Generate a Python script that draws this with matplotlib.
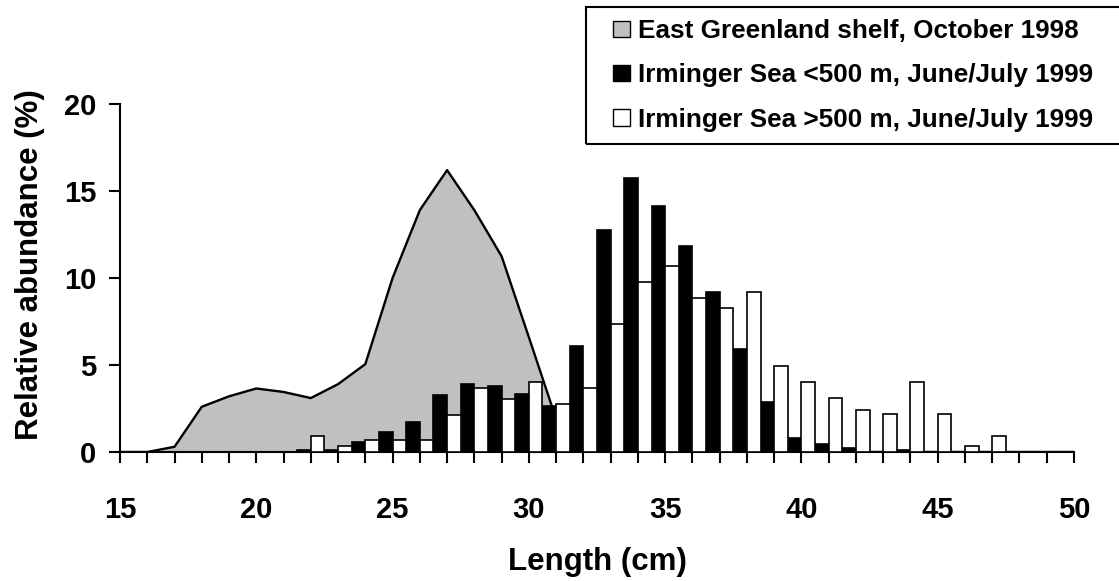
import matplotlib
matplotlib.use("Agg")
import matplotlib.pyplot as plt
from matplotlib.patches import Patch, Rectangle
import numpy as np

plt.rcParams['font.family'] = ['Liberation Sans', 'DejaVu Sans']
plt.rcParams['font.weight'] = 'bold'

# length classes (cm)
lengths = np.arange(15, 51)

# East Greenland shelf, October 1998 (area)
greenland = [0, 0, 0.3, 2.6, 3.2, 3.65, 3.45, 3.1, 3.9, 5.05,
             10.0, 13.9, 16.2, 13.9, 11.25, 6.6, 1.9, 0, 0, 0,
             0, 0, 0, 0, 0, 0, 0, 0, 0, 0,
             0, 0, 0, 0, 0, 0]
# Irminger Sea <500 m (black bars)
shallow = [0, 0, 0, 0, 0, 0, 0, 0.1, 0.1, 0.6,
           1.15, 1.75, 3.25, 3.9, 3.8, 3.35, 2.65, 6.1, 12.75, 15.75,
           14.15, 11.85, 9.2, 5.9, 2.9, 0.8, 0.45, 0.25, 0, 0.1,
           0, 0, 0, 0, 0, 0]
# Irminger Sea >500 m (white bars)
deep = [0, 0, 0, 0, 0, 0, 0, 0.9, 0.35, 0.7,
        0.7, 0.7, 2.15, 3.65, 3.05, 4.0, 2.75, 3.65, 7.35, 9.75,
        10.7, 8.85, 8.3, 9.2, 4.95, 4.0, 3.1, 2.4, 2.2, 4.0,
        2.2, 0.35, 0.9, 0, 0, 0]

labels = ["East Greenland shelf, October 1998",
          "Irminger Sea <500 m, June/July 1999",
          "Irminger Sea >500 m, June/July 1999"]

W, H = 1119, 581
fig = plt.figure(figsize=(W / 100, H / 100), dpi=100)
ax = fig.add_axes([120 / W, 1 - 452 / H, (1074 - 120) / W, (452 - 104) / H])

ax.fill_between(lengths, greenland, color='#c0c0c0', lw=0, zorder=1)
ax.plot(lengths, greenland, color='black', lw=1.7, zorder=2)
ax.bar(lengths, shallow, width=-0.5, align='edge', color='black',
       edgecolor='black', lw=1.2, zorder=3)
ax.bar(lengths, deep, width=0.5, align='edge', color='white',
       edgecolor='black', lw=1.2, zorder=3)

ax.set_xlim(15, 50)
ax.set_ylim(0, 20)
ax.spines['top'].set_visible(False)
ax.spines['right'].set_visible(False)
for s in ['left', 'bottom']:
    ax.spines[s].set_linewidth(1.5)

ax.set_xticks(np.arange(15, 51, 5))
ax.set_xticks(lengths, minor=True)
ax.set_yticks(np.arange(0, 21, 5))
ax.tick_params(axis='both', which='both', direction='out', length=8, width=1.5)
ax.tick_params(axis='x', which='major', labelsize=21, pad=24)
ax.tick_params(axis='y', which='major', labelsize=21, pad=9)

ax.set_xlabel("Length (cm)", fontsize=22.5, fontweight='bold', labelpad=16)
ax.set_ylabel("Relative abundance (%)", fontsize=22.5, fontweight='bold', labelpad=14)
ax.yaxis.label.set_y(0.537)

handles = [Patch(facecolor='#c0c0c0', edgecolor='black', lw=1),
           Patch(facecolor='black', edgecolor='black', lw=1),
           Patch(facecolor='white', edgecolor='black', lw=1)]
fig.legend(handles, labels, loc='upper left', bbox_to_anchor=(613 / W, 1 - 19 / H),
           frameon=False, prop={'size': 18.8, 'weight': 'bold'},
           handlelength=0.65, handleheight=0.57, handletextpad=0.3,
           labelspacing=0.78, borderpad=0, borderaxespad=0)
fig.add_artist(Rectangle((586 / W, 1 - 144 / H), (1130 - 586) / W, (144 - 7) / H,
                         transform=fig.transFigure, fill=False, edgecolor='black',
                         lw=1.5, clip_on=False))

fig.savefig("out.png", dpi=100)
